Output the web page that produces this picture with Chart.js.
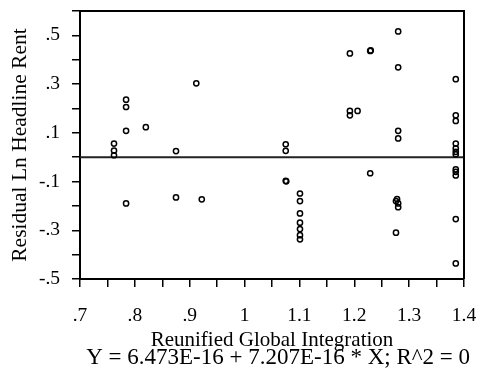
<!DOCTYPE html>
<html>
<head>
<meta charset="utf-8">
<script src="https://cdn.jsdelivr.net/npm/chart.js@4.4.0/dist/chart.umd.min.js"></script>
<style>
  html, body { margin: 0; padding: 0; background: #fff; }
  #wrap { width: 480px; height: 383px; }
</style>
</head>
<body>
<div id="wrap"><canvas id="chart" width="480" height="383"></canvas></div>
<script>
// Residual values, grouped by x column
const xValues = [
  0.762, 0.762, 0.762,
  0.784, 0.784, 0.784, 0.784,
  0.820,
  0.875, 0.875,
  0.912, 0.922,
  1.075, 1.075, 1.075, 1.076,
  1.101, 1.101, 1.101, 1.101, 1.101, 1.101, 1.101,
  1.192, 1.192, 1.192, 1.206,
  1.229, 1.230, 1.229,
  1.280, 1.280, 1.280, 1.280,
  1.278, 1.276, 1.280, 1.280, 1.276,
  1.385, 1.385, 1.385, 1.385, 1.385, 1.385, 1.385,
  1.385, 1.385, 1.385, 1.385, 1.385
];
const yValues = [
  0.056, 0.027, 0.008,
  0.236, 0.206, 0.108, -0.190,
  0.123,
  0.025, -0.165,
  0.303, -0.173,
  0.053, 0.026, -0.097, -0.099,
  -0.149, -0.180, -0.231, -0.269, -0.295, -0.320, -0.337,
  0.426, 0.190, 0.172, 0.190,
  0.436, 0.438, -0.066,
  0.516, 0.369, 0.108, 0.077,
  -0.172, -0.180, -0.190, -0.205, -0.310,
  0.320, 0.172, 0.149, 0.056, 0.036, 0.022, 0.012,
  -0.050, -0.060, -0.075, -0.254, -0.436
];

// Fitted line: Y = 6.473E-16 + 7.207E-16 * X
const fitIntercept = 6.473e-16;
const fitSlope = 7.207e-16;
const fitRange = [0.7, 1.4];

// Axis ticks (every tick gets a mark, only some get a label)
const xTickValues = [0.7, 0.75, 0.8, 0.85, 0.9, 0.95, 1.0, 1.05, 1.1, 1.15, 1.2, 1.25, 1.3, 1.35, 1.4];
const xTickLabels = ['.7', '', '.8', '', '.9', '', '1', '', '1.1', '', '1.2', '', '1.3', '', '1.4'];
const yTickValues = [-0.5, -0.4, -0.3, -0.2, -0.1, 0, 0.1, 0.2, 0.3, 0.4, 0.5, 0.6];
const yTickLabels = ['-.5', '', '-.3', '', '-.1', '', '.1', '', '.3', '', '.5', ''];

const xTitle = 'Reunified Global Integration';
const yTitle = 'Residual Ln Headline Rent';
const footerText = 'Y = 6.473E-16 + 7.207E-16 * X; R^2 = 0';

const FONT = "'Liberation Serif', 'Times New Roman', serif";

const points = xValues.map((x, i) => ({ x: x, y: yValues[i] }));
const fitLine = fitRange.map(x => ({ x: x, y: fitIntercept + fitSlope * x }));

function labelFor(values, labels, v) {
    const i = values.findIndex(t => Math.abs(t - v) < 1e-6);
    return i >= 0 ? labels[i] : '';
}

// Draw the top and right sides of the plot frame
const framePlugin = {
    id: 'frame',
    afterDatasetsDraw(chart) {
        const a = chart.chartArea;
        const ctx = chart.ctx;
        ctx.save();
        ctx.strokeStyle = '#000';
        ctx.lineWidth = 2;
        ctx.beginPath();
        ctx.moveTo(a.left, a.top);
        ctx.lineTo(a.right, a.top);
        ctx.lineTo(a.right, a.bottom);
        ctx.stroke();
        ctx.restore();
    }
};

const ctx = document.getElementById('chart').getContext('2d');
new Chart(ctx, {
    type: 'scatter',
    data: {
        datasets: [
            {
                label: 'fit',
                data: fitLine,
                showLine: true,
                borderColor: '#222',
                borderWidth: 2,
                pointRadius: 0,
                order: 2
            },
            {
                label: 'residuals',
                data: points,
                pointRadius: 2.6,
                pointBorderWidth: 1.5,
                pointBorderColor: '#000',
                pointBackgroundColor: 'rgba(255,255,255,0)',
                order: 1
            }
        ]
    },
    options: {
        responsive: false,
        animation: false,
        layout: { padding: { top: 11, right: 10, left: 0, bottom: 0 } },
        scales: {
            x: {
                type: 'linear',
                min: 0.7,
                max: 1.4,
                afterBuildTicks: scale => { scale.ticks = xTickValues.map(v => ({ value: v })); },
                afterFit: scale => {
                    scale.height = 67;
                    scale.paddingLeft = 0;
                    scale.paddingRight = 16;
                },
                grid: { drawOnChartArea: false, drawTicks: true, tickLength: 8, color: '#000', lineWidth: 1.5 },
                border: { display: true, color: '#000', width: 2 },
                ticks: {
                    autoSkip: false,
                    maxRotation: 0,
                    padding: 17,
                    color: '#000',
                    font: { family: FONT, size: 19.5 },
                    callback: v => labelFor(xTickValues, xTickLabels, v)
                },
                title: {
                    display: true,
                    text: xTitle,
                    color: '#000',
                    font: { family: FONT, size: 21, lineHeight: 1 },
                    padding: { top: 0, bottom: -4.5 }
                }
            },
            y: {
                type: 'linear',
                min: -0.5,
                max: 0.6,
                afterBuildTicks: scale => { scale.ticks = yTickValues.map(v => ({ value: v })); },
                afterFit: scale => {
                    scale.width = 80;
                    scale.paddingTop = 0;
                    scale.paddingBottom = 0;
                },
                grid: { drawOnChartArea: false, drawTicks: true, tickLength: 8, color: '#000', lineWidth: 1.5 },
                border: { display: true, color: '#000', width: 2 },
                ticks: {
                    autoSkip: false,
                    padding: 12,
                    color: '#000',
                    font: { family: FONT, size: 19.5 },
                    callback: v => labelFor(yTickValues, yTickLabels, v)
                },
                title: {
                    display: true,
                    text: yTitle,
                    color: '#000',
                    font: { family: FONT, size: 21.5 },
                    padding: { top: 7, bottom: 0 }
                }
            }
        },
        plugins: {
            legend: { display: false },
            tooltip: { enabled: false },
            title: {
                display: true,
                position: 'bottom',
                align: 'end',
                text: footerText,
                color: '#000',
                font: { family: FONT, size: 23, weight: 'normal', lineHeight: 1 },
                padding: { top: 0, bottom: 14 }
            }
        }
    },
    plugins: [framePlugin]
});
</script>
</body>
</html>
